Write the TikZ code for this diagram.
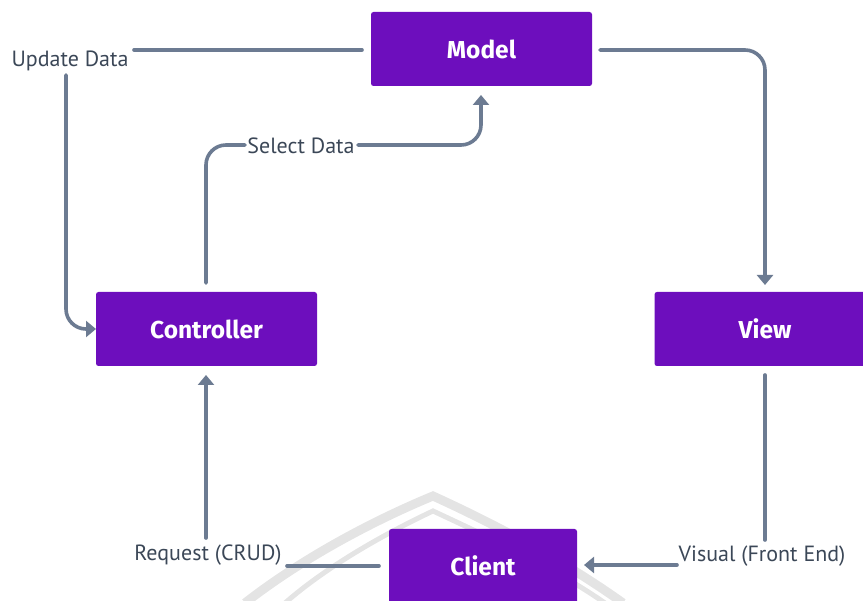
\documentclass[tikz,border=0pt]{standalone}
\usepackage{fontspec}
\setmainfont{PT Sans}
\newfontfamily\boxfont{Fira Sans}
\usetikzlibrary{arrows.meta}
\definecolor{boxpurple}{HTML}{6D0EBD}
\definecolor{linkgrey}{HTML}{6C7B92}
\definecolor{labelgrey}{HTML}{3B4757}
\definecolor{markgrey}{HTML}{E4E4E4}
\tikzset{
  boxtext/.style={text=white,inner sep=0pt,font=\boxfont\fontsize{24.5}{28}\selectfont\bfseries},
  box/.style={boxtext,fill=boxpurple,rounded corners=2.5pt},
  lbl/.style={text=labelgrey,inner sep=0pt,font=\fontsize{22}{26}\selectfont},
  link/.style={draw=linkgrey,line width=3.6pt,line cap=round,rounded corners=20pt},
  arrowlink/.style={link,-{Triangle[width=16pt,length=10pt]}},
  wmark/.style={draw=markgrey}
}
\begin{document}
\begin{tikzpicture}[x=1pt,y=-1pt]
\useasboundingbox (0,0) rectangle (863,601);
\clip (0,0) rectangle (863,601);
\draw[wmark,line width=9pt] (245,603) .. controls (300,560) and (370,522) .. (433,496) .. controls (490,522) and (560,558) .. (623,603);
\draw[wmark,line width=5pt] (285,603) .. controls (325,568) and (380,536) .. (433,511) .. controls (480,533) and (550,565) .. (605,603);
\node[box,minimum width=221pt,minimum height=74pt] (model) at (481.5,49) {Model};
\node[box,minimum width=221pt,minimum height=74pt] (controller) at (206.5,329) {Controller};
\node[box,minimum width=221pt,minimum height=74pt] (view) at (765,329) {View};
\node[box,minimum width=188pt,minimum height=90pt] (client) at (483,574) {};
\node[boxtext] (clienttext) at (483,566) {Client};
\node[lbl] (update) at (70,61) {Update Data};
\node[lbl] (select) at (301,145.5) {Select Data};
\node[lbl] (request) at (208,555.5) {Request (CRUD)};
\node[lbl] (visual) at (762,556.5) {Visual (Front End)};
\coordinate (a) at (600,50);
\coordinate (b) at (765,50);
\coordinate (c) at (765,285);
\draw[arrowlink] (a) -- (b) -- (c);
\coordinate (d) at (362,50);
\coordinate (e) at (134,50);
\draw[link] (d) -- (e);
\coordinate (f) at (66,75);
\coordinate (g) at (66,329);
\coordinate (h) at (96,329);
\draw[arrowlink] (f) -- (g) -- (h);
\coordinate (i) at (206,283);
\coordinate (j) at (206,145);
\coordinate (k) at (245,145);
\draw[link] (i) -- (j) -- (k);
\coordinate (l) at (358,145);
\coordinate (m) at (481,145);
\coordinate (n) at (481,95);
\draw[arrowlink] (l) -- (m) -- (n);
\coordinate (o) at (206,538);
\coordinate (p) at (206,375);
\draw[arrowlink] (o) -- (p);
\coordinate (q) at (379,566);
\coordinate (r) at (287,566);
\draw[link] (q) -- (r);
\coordinate (s) at (765,375);
\coordinate (t) at (765,540);
\draw[link] (s) -- (t);
\coordinate (u) at (677,565);
\coordinate (v) at (584,565);
\draw[arrowlink] (u) -- (v);
\end{tikzpicture}
\end{document}
